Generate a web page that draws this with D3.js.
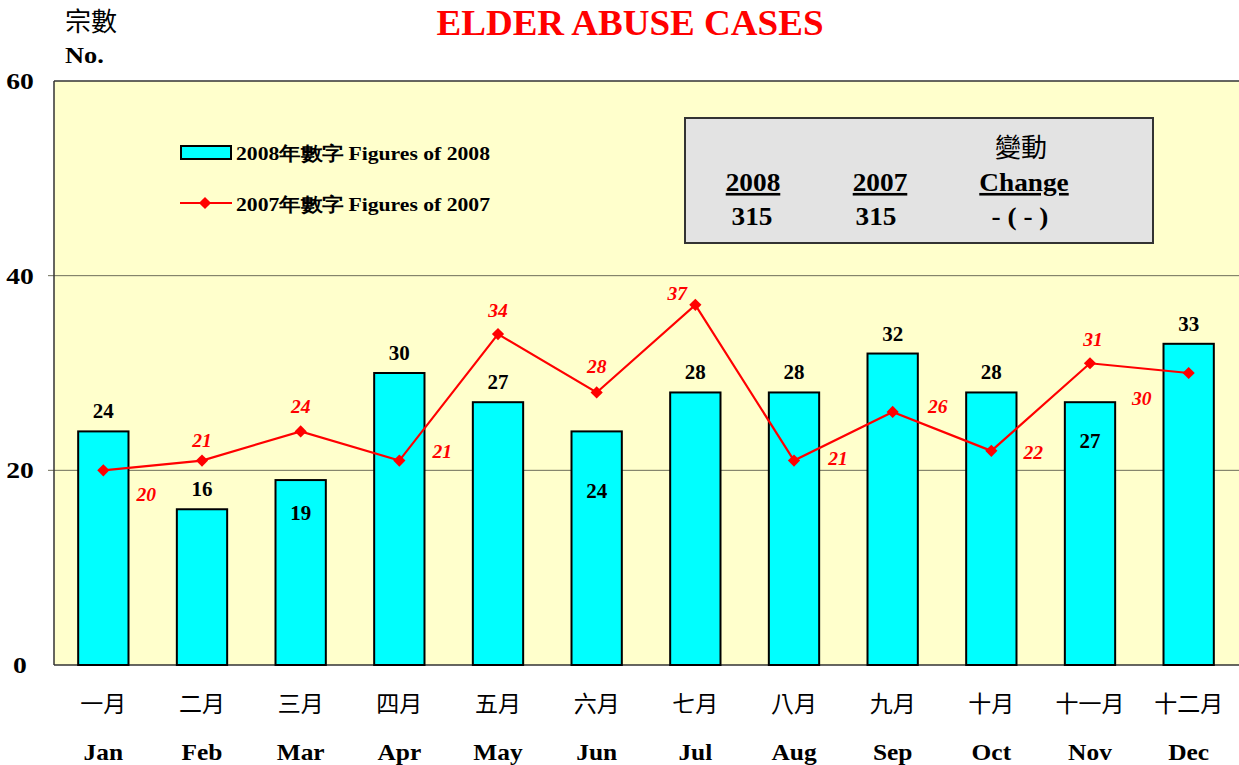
<!DOCTYPE html>
<html>
<head>
<meta charset="utf-8">
<script src="https://cdn.jsdelivr.net/npm/d3@7"></script>
<style>
  body { margin: 0; background: #fff; }
  text { font-family: "Liberation Serif", "Times New Roman", serif; }
  .cjk { font-family: "Noto Sans CJK TC", "Noto Sans CJK SC", sans-serif; }
</style>
</head>
<body>
<div id="chart"></div>
<script>
// data
var monthsZh = ['一月','二月','三月','四月','五月','六月','七月','八月','九月','十月','十一月','十二月'];
var monthsEn = ['Jan','Feb','Mar','Apr','May','Jun','Jul','Aug','Sep','Oct','Nov','Dec'];
var figures2008 = [24, 16, 19, 30, 27, 24, 28, 28, 32, 28, 27, 33];
var figures2007 = [20, 21, 24, 21, 34, 28, 37, 21, 26, 22, 31, 30];
var yTicks = [0, 20, 40, 60];
var totals = { y2008: '315', y2007: '315', change: '- ( - )' };

// label placement (style only): pixel offsets from the mark
var barLabelDy = [-13, -13, 40, -13, -13, 67, -13, -13, -13, -13, 46, -13];
var lineLabelOffset = [[43,31],[0,-14],[0,-18],[43,-3],[0,-17],[0,-19],[-18,-5],[44,4],[45,1],[42,8],[3,-17],[-47,32]];

var WIDTH = 1239, HEIGHT = 765;
var LEFT = 54, RIGHT = 1239, TOP = 81, BOTTOM = 665;

var svg = d3.select('#chart').append('svg')
    .attr('width', WIDTH)
    .attr('height', HEIGHT);

// text is a bit wider than the plain font, so stretch it sideways
function at(px, py, sx) {
  return function(d, i) {
    var X = typeof px === 'function' ? px(d, i) : px;
    var Y = typeof py === 'function' ? py(d, i) : py;
    return 'translate(' + X + ',' + Y + ') scale(' + (sx || 1) + ',1)';
  };
}

var x = d3.scaleBand()
    .domain(monthsEn)
    .range([LEFT, RIGHT - 1])
    .paddingInner(0.49)
    .paddingOuter(0.245);

var y = d3.scaleLinear()
    .domain([0, 60])
    .range([BOTTOM, TOP]);

// plot background
svg.append('rect')
    .attr('x', LEFT).attr('y', TOP)
    .attr('width', RIGHT - LEFT).attr('height', BOTTOM - TOP)
    .attr('fill', '#FFFFCC');

// gridlines
svg.append('g').selectAll('line')
  .data(yTicks.filter(function(d) { return d > 0 && d < 60; }))
  .enter().append('line')
    .attr('x1', LEFT - 6).attr('x2', RIGHT)
    .attr('y1', function(d) { return y(d); })
    .attr('y2', function(d) { return y(d); })
    .attr('stroke', '#6e6e5a').attr('stroke-width', 1);

// plot borders (left, top, bottom)
svg.append('line').attr('x1', LEFT).attr('x2', LEFT).attr('y1', TOP).attr('y2', BOTTOM)
    .attr('stroke', '#333').attr('stroke-width', 1.5);
svg.append('line').attr('x1', LEFT).attr('x2', RIGHT).attr('y1', TOP).attr('y2', TOP)
    .attr('stroke', '#333').attr('stroke-width', 1.5);
svg.append('line').attr('x1', LEFT).attr('x2', RIGHT).attr('y1', BOTTOM).attr('y2', BOTTOM)
    .attr('stroke', '#333').attr('stroke-width', 1.5);

// y tick labels
svg.append('g').selectAll('text')
  .data(yTicks)
  .enter().append('text')
    .attr('transform', at(20, function(d) { return y(d) + 8; }, 1.2))
    .attr('text-anchor', 'middle')
    .attr('font-size', 23).attr('font-weight', 'bold')
    .text(function(d) { return d; });

// bars
svg.append('g').selectAll('rect')
  .data(figures2008)
  .enter().append('rect')
    .attr('x', function(d, i) { return x(monthsEn[i]); })
    .attr('y', function(d) { return y(d); })
    .attr('width', x.bandwidth())
    .attr('height', function(d) { return y(0) - y(d); })
    .attr('fill', '#00FFFF')
    .attr('stroke', '#000').attr('stroke-width', 2);

var cx = function(i) { return x(monthsEn[i]) + x.bandwidth() / 2; };

// bar labels
svg.append('g').selectAll('text')
  .data(figures2008)
  .enter().append('text')
    .attr('transform', at(function(d, i) { return cx(i); },
      function(d, i) { return y(d) + barLabelDy[i]; }, 1.05))
    .attr('text-anchor', 'middle')
    .attr('font-size', 20).attr('font-weight', 'bold')
    .text(function(d) { return d; });

// 2007 line
var line = d3.line()
    .x(function(d, i) { return cx(i); })
    .y(function(d) { return y(d); });

svg.append('path')
    .datum(figures2007)
    .attr('d', line)
    .attr('fill', 'none')
    .attr('stroke', '#FF0000').attr('stroke-width', 2.2);

var diamond = d3.symbol().type(d3.symbolDiamond2).size(95);
svg.append('g').selectAll('path')
  .data(figures2007)
  .enter().append('path')
    .attr('d', diamond)
    .attr('transform', function(d, i) { return 'translate(' + cx(i) + ',' + y(d) + ')'; })
    .attr('fill', '#FF0000');

// line labels
svg.append('g').selectAll('text')
  .data(figures2007)
  .enter().append('text')
    .attr('transform', at(function(d, i) { return cx(i) + lineLabelOffset[i][0]; },
      function(d, i) { return y(d) + lineLabelOffset[i][1]; }, 1.03))
    .attr('text-anchor', 'middle')
    .attr('font-size', 19).attr('font-weight', 'bold').attr('font-style', 'italic')
    .attr('fill', '#FF0000')
    .text(function(d) { return d; });

// x axis labels
svg.append('g').selectAll('text')
  .data(monthsZh)
  .enter().append('text')
    .attr('class', 'cjk')
    .attr('x', function(d, i) { return cx(i); })
    .attr('y', 712)
    .attr('text-anchor', 'middle')
    .attr('font-size', 23)
    .text(function(d) { return d; });

svg.append('g').selectAll('text')
  .data(monthsEn)
  .enter().append('text')
    .attr('transform', at(function(d, i) { return cx(i); }, 760, 1.13))
    .attr('text-anchor', 'middle')
    .attr('font-size', 22.5).attr('font-weight', 'bold')
    .text(function(d) { return d; });

// title and y axis title
svg.append('text')
    .attr('x', 630).attr('y', 35)
    .attr('text-anchor', 'middle')
    .attr('font-size', 35).attr('font-weight', 'bold')
    .attr('fill', '#FF0000')
    .attr('textLength', 387).attr('lengthAdjust', 'spacingAndGlyphs')
    .text('ELDER ABUSE CASES');

svg.append('text').attr('class', 'cjk')
    .attr('x', 65).attr('y', 31)
    .attr('font-size', 26)
    .text('宗數');
svg.append('text')
    .attr('transform', at(65, 63, 1.1))
    .attr('font-size', 24).attr('font-weight', 'bold')
    .text('No.');

// legend
var lg = svg.append('g');
lg.append('rect')
    .attr('x', 181).attr('y', 146).attr('width', 50).attr('height', 13)
    .attr('fill', '#00FFFF').attr('stroke', '#000').attr('stroke-width', 2);
lg.append('text')
    .attr('transform', at(236, 160, 1.14))
    .attr('font-size', 19).attr('font-weight', 'bold')
    .text('2008年數字 Figures of 2008');
lg.append('line')
    .attr('x1', 180).attr('x2', 232).attr('y1', 203).attr('y2', 203)
    .attr('stroke', '#FF0000').attr('stroke-width', 2.2);
lg.append('path')
    .attr('d', diamond)
    .attr('transform', 'translate(205,203)')
    .attr('fill', '#FF0000');
lg.append('text')
    .attr('transform', at(236, 211, 1.14))
    .attr('font-size', 19).attr('font-weight', 'bold')
    .text('2007年數字 Figures of 2007');

// summary box
var bx = svg.append('g');
bx.append('rect')
    .attr('x', 685).attr('y', 118).attr('width', 468).attr('height', 125)
    .attr('fill', '#E3E3E3').attr('stroke', '#333').attr('stroke-width', 2);
bx.append('text').attr('class', 'cjk')
    .attr('x', 1021).attr('y', 157)
    .attr('text-anchor', 'middle').attr('font-size', 26)
    .text('變動');

var heads = [['2008', 753], ['2007', 880], ['Change', 1024]];
var vals = [[totals.y2008, 752], [totals.y2007, 876], [totals.change, 1020]];
heads.forEach(function(h) {
  bx.append('text')
      .attr('transform', at(h[1], 191, 1.05))
      .attr('text-anchor', 'middle')
      .attr('font-size', 26).attr('font-weight', 'bold')
      .attr('text-decoration', 'underline')
      .text(h[0]);
});
vals.forEach(function(v) {
  bx.append('text')
      .attr('transform', at(v[1], 225, 1.05))
      .attr('text-anchor', 'middle')
      .attr('font-size', 26).attr('font-weight', 'bold')
      .text(v[0]);
});
</script>
</body>
</html>
